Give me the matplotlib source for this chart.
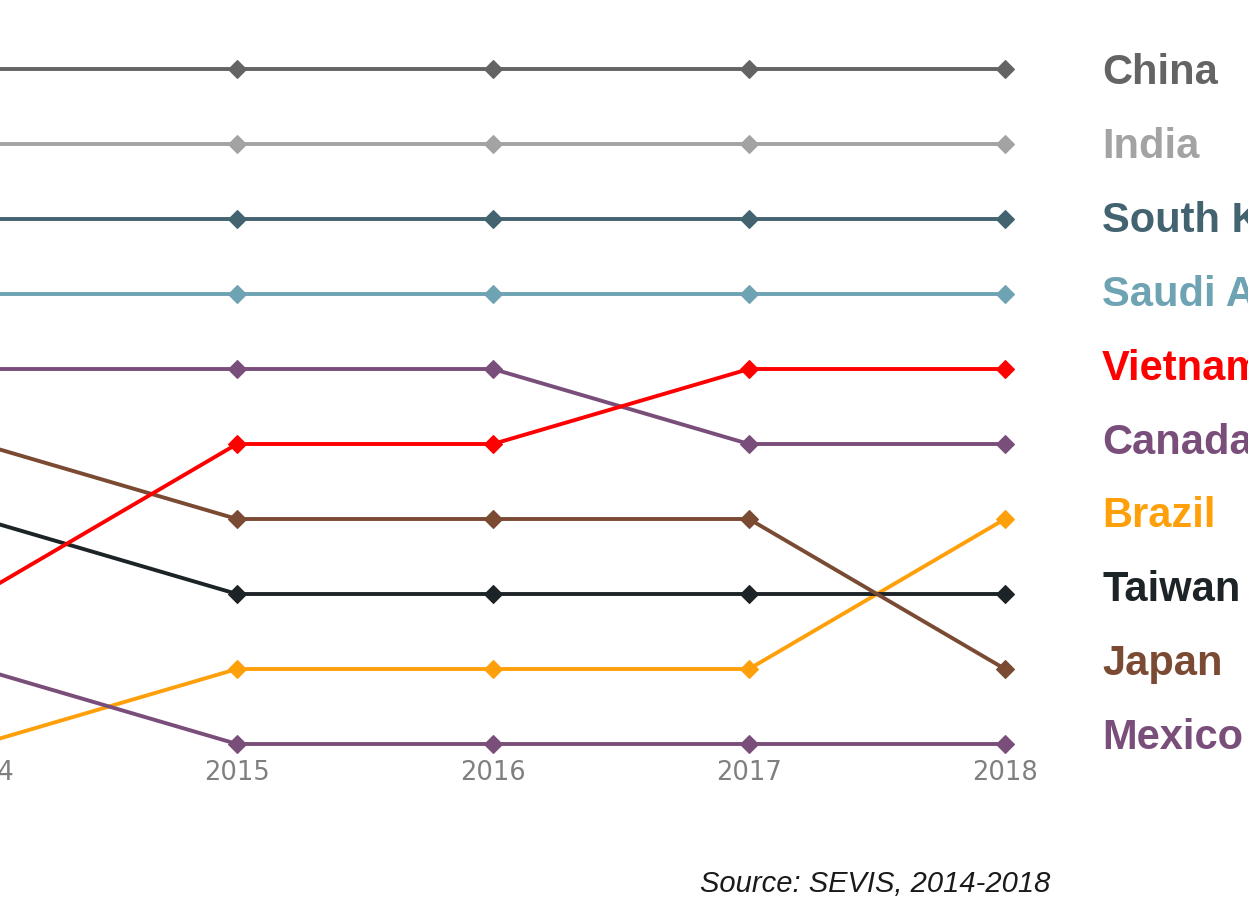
import matplotlib.pyplot as plt

years = [2014, 2015, 2016, 2017, 2018]
countries = ['China', 'India', 'South Korea', 'Saudi Arabia', 'Vietnam',
             'Canada', 'Brazil', 'Taiwan', 'Japan', 'Mexico']

# rank of each country per year (1 = top)
china = [1, 1, 1, 1, 1]
india = [2, 2, 2, 2, 2]
south_korea = [3, 3, 3, 3, 3]
saudi_arabia = [4, 4, 4, 4, 4]
vietnam = [8, 6, 6, 5, 5]
canada = [5, 5, 5, 6, 6]
brazil = [10, 9, 9, 9, 7]
taiwan = [7, 8, 8, 8, 8]
japan = [6, 7, 7, 7, 9]
mexico = [9, 10, 10, 10, 10]

ranks = [china, india, south_korea, saudi_arabia, vietnam,
         canada, brazil, taiwan, japan, mexico]
colors = ['#646464', '#a3a3a3', '#42636f', '#6ea3b3', '#ff0000',
          '#7a4e7a', '#ffa00a', '#1d2427', '#7a4a33', '#7a4e7a']

fig = plt.figure(figsize=(12.48, 9.03), dpi=100)
ax = fig.add_axes([0, 0, 1, 1])

# map data to the cropped frame: 2015 at x=237px, 256px per year, rank 1 at y=70px, 75px per rank
px_year = 256.0
x0 = 2015 - 237 / px_year
x1 = 2015 + (1248 - 237) / px_year
y0 = 1 - 70 / 75.0
y1 = 1 + (903 - 70) / 75.0
ax.set_xlim(x0, x1)
ax.set_ylim(y1, y0)
ax.axis('off')

for i in range(len(countries)):
    ax.plot(years, ranks[i], color=colors[i], lw=2.8, marker='D',
            markersize=9.5, markeredgewidth=0.8, markeredgecolor=colors[i],
            zorder=2 + (i == 4))

# labels on the right are spaced a bit tighter than the rows
label_x = 2015 + (1102 - 237) / px_year
for i in range(len(countries)):
    r = ranks[i][-1]
    ly = 1 + (3 + 73.9 * (r - 1)) / 75.0
    ax.text(label_x, ly, countries[i], color=colors[i],
            fontsize=30, fontweight='bold', family='Liberation Sans',
            ha='left', va='center', clip_on=False)

tick_y = 1 + (773 - 70) / 75.0
for yr in years:
    ax.text(yr, tick_y, str(yr), color='#7f7f7f', fontsize=18.5,
            family='DejaVu Sans', ha='center', va='center')

fig.text(1050 / 1248, 1 - 884 / 903, 'Source: SEVIS, 2014-2018',
         fontsize=21, style='italic', family='Liberation Sans',
         color='#1a1a1a', ha='right', va='center')

fig.savefig('out.png', dpi=100)
